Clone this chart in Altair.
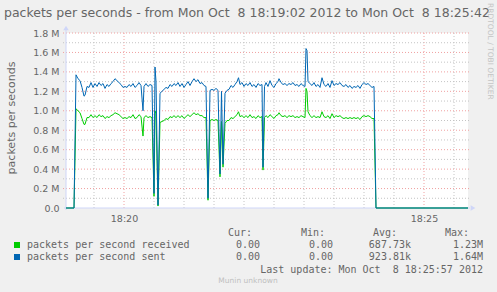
import altair as alt
import pandas as pd

# ---------------- data (seconds after 18:19:02, values in millions) -------------
secs = [0, 8, 10, 12, 14, 16, 18, 19, 21, 23, 25, 27, 29, 31, 33, 35, 37, 39, 41, 43,
        45, 47, 49, 51, 53, 55, 57, 59, 61, 63, 65, 67, 69, 71, 73, 75, 77, 78, 80, 82,
        84, 86, 88, 89, 90, 92, 94, 96, 98, 100, 102, 104, 106, 108, 110, 112, 114, 116, 118, 120,
        122, 124, 126, 128, 130, 132, 134, 136, 138, 140, 142, 144, 146, 148, 150, 152, 154, 155.5, 157, 159,
        161, 163, 165, 167, 169, 171, 172.5, 174, 176, 178, 180, 182, 184, 186, 188, 190, 192, 194, 196, 197,
        198.5, 200, 202, 204, 206, 208, 210, 212, 213, 215, 217, 219, 221, 223, 225, 227, 229, 231, 233, 235,
        237, 239, 240, 241, 242, 244, 246, 248, 250, 252, 254, 256, 258, 260, 262, 264, 266, 268, 270, 272,
        274, 276, 278, 280, 282, 284, 286, 288, 290, 292, 294, 296, 298, 300, 302, 304, 306, 308, 310, 402]

sent = [0, 0, 1.37, 1.33, 1.31, 1.24, 1.15, 1.16, 1.25, 1.24, 1.29, 1.24, 1.28, 1.25, 1.29, 1.26, 1.28, 1.23, 1.27, 1.25,
        1.28, 1.30, 1.33, 1.31, 1.29, 1.27, 1.24, 1.25, 1.24, 1.27, 1.25, 1.28, 1.24, 1.26, 1.29, 1.26, 1.00, 1.25, 1.28, 1.25,
        1.27, 1.26, 0.15, 1.45, 1.30, 0.03, 1.18, 1.20, 1.22, 1.24, 1.23, 1.27, 1.25, 1.28, 1.26, 1.29, 1.25, 1.28, 1.24, 1.27,
        1.30, 1.26, 1.30, 1.33, 1.30, 1.32, 1.28, 1.29, 1.26, 1.25, 0.10, 1.21, 1.22, 1.21, 1.23, 1.21, 0.35, 1.20, 0.45, 1.18,
        1.21, 1.22, 1.26, 1.24, 1.27, 1.30, 1.34, 1.27, 1.29, 1.25, 1.28, 1.26, 1.29, 1.25, 1.27, 1.24, 1.28, 1.26, 1.27, 0.42,
        1.25, 1.29, 1.25, 1.31, 1.26, 1.24, 1.28, 1.30, 1.33, 1.29, 1.27, 1.28, 1.26, 1.28, 1.27, 1.29, 1.26, 1.27, 1.25, 1.28,
        1.26, 1.25, 1.64, 1.62, 1.30, 1.28, 1.26, 1.29, 1.25, 1.27, 1.24, 1.34, 1.27, 1.25, 1.28, 1.24, 1.31, 1.26, 1.28, 1.27,
        1.29, 1.26, 1.25, 1.27, 1.24, 1.26, 1.23, 1.25, 1.24, 1.26, 1.23, 1.27, 1.29, 1.27, 1.28, 1.26, 1.24, 1.25, 0, 0]

received = [0, 0, 1.02, 1.00, 0.98, 0.92, 0.86, 0.86, 0.93, 0.93, 0.96, 0.93, 0.95, 0.93, 0.96, 0.94, 0.95, 0.92, 0.94, 0.93,
            0.95, 0.96, 0.98, 0.97, 0.96, 0.94, 0.92, 0.93, 0.92, 0.94, 0.93, 0.96, 0.92, 0.93, 0.96, 0.94, 0.74, 0.93, 0.95, 0.93,
            0.94, 0.93, 0.12, 1.00, 0.97, 0.02, 0.88, 0.89, 0.90, 0.92, 0.91, 0.94, 0.93, 0.95, 0.93, 0.95, 0.93, 0.95, 0.92, 0.94,
            0.96, 0.94, 0.96, 0.98, 0.96, 0.97, 0.95, 0.95, 0.93, 0.93, 0.08, 0.90, 0.91, 0.90, 0.91, 0.90, 0.32, 0.89, 0.42, 0.87,
            0.90, 0.90, 0.93, 0.92, 0.94, 0.96, 0.99, 0.94, 0.95, 0.93, 0.95, 0.93, 0.96, 0.93, 0.94, 0.92, 0.95, 0.93, 0.94, 0.39,
            0.93, 0.95, 0.93, 0.96, 0.94, 0.92, 0.95, 0.96, 0.98, 0.95, 0.94, 0.95, 0.93, 0.95, 0.94, 0.95, 0.93, 0.94, 0.93, 0.95,
            0.94, 0.93, 1.23, 1.20, 0.99, 0.95, 0.93, 0.95, 0.93, 0.94, 0.93, 0.99, 0.94, 0.93, 0.95, 0.92, 0.97, 0.93, 0.95, 0.94,
            0.95, 0.93, 0.92, 0.93, 0.92, 0.93, 0.92, 0.93, 0.92, 0.93, 0.91, 0.94, 0.95, 0.94, 0.95, 0.94, 0.92, 0.92, 0, 0]

series_names = ["packets per second received", "packets per second sent"]
series_colors = ["#00cc00", "#0066b3"]
cur_vals = ["0.00", "0.00"]
min_vals = ["0.00", "0.00"]
avg_vals = ["687.73k", "923.81k"]
max_vals = ["1.23M", "1.64M"]

x_tick_secs = [58, 358]
x_tick_labels = ["18:20", "18:25"]
y_ticks = [0, 0.2, 0.4, 0.6, 0.8, 1.0, 1.2, 1.4, 1.6, 1.8]
minor_x = [28, 88, 118, 148, 178, 208, 238, 268, 298, 328, 388]
major_x = [58, 358]
minor_y = [0.1, 0.3, 0.5, 0.7, 0.9, 1.1, 1.3, 1.5, 1.7]
major_y = [0.2, 0.4, 0.6, 0.8, 1.0, 1.2, 1.4, 1.6, 1.8]

title_text = "packets per seconds - from Mon Oct \u00a08 18:19:02 2012 to Mon Oct \u00a08 18:25:42"
last_update = "Last update: Mon Oct \u00a08 18:25:57 2012"

# ---------------- layout ---------------
OX, OY = 66, 33          # plot origin in page pixels
W, H = 402, 175
SANS = "DejaVu Sans"
MONO = "DejaVu Sans Mono"
FONT_C = "#666666"
AXIS_C = "#cfd6f8"

df = pd.DataFrame({
    "t": secs * 2,
    "v": received + sent,
    "s": [series_names[0]] * len(secs) + [series_names[1]] * len(secs),
})

xs = alt.Scale(domain=[0, W], nice=False)
ys = alt.Scale(domain=[0, 1.8], nice=False)

lbl_expr = " : ".join(
    f"datum.value == {s} ? '{l}'" for s, l in zip(x_tick_secs, x_tick_labels)
) + " : ''"

X_AXIS = alt.Axis(
    values=x_tick_secs, labelExpr=lbl_expr, title=None, domain=False, grid=False,
    ticks=False, labelPadding=5, labelFont=SANS, labelFontSize=9.5, labelColor=FONT_C,
    labelOverlap=False)
Y_AXIS = alt.Axis(
    values=y_ticks, labelExpr="datum.value == 0 ? '0.0' : format(datum.value, '.1f') + ' M'",
    title=None, domain=False, grid=False, ticks=False, labelPadding=7,
    labelFont=SANS, labelFontSize=9.5, labelColor=FONT_C, labelOverlap=False,
    labelFlush=False)

def X(field="t"):
    return alt.X(f"{field}:Q", scale=xs, axis=X_AXIS)

def Y(field="v"):
    return alt.Y(f"{field}:Q", scale=ys, axis=Y_AXIS)

def vgrid(vals, color):
    return alt.Chart(pd.DataFrame({"t": vals})).mark_rule(
        color=color, strokeWidth=1, strokeDash=[1, 2]).encode(
        x=X(), y=alt.value(0), y2=alt.value(H + 2))

def hgrid(vals, color):
    return alt.Chart(pd.DataFrame({"v": vals})).mark_rule(
        color=color, strokeWidth=1, strokeDash=[1, 2]).encode(
        y=Y(), x=alt.value(-3), x2=alt.value(W + 2))

GRID_MINOR = "#c4c4c4"
GRID_MAJOR = "#f0a0a0"

lines = alt.Chart(df).mark_line(strokeWidth=1, interpolate="linear").encode(
    x=X(),
    y=Y(),
    color=alt.Color("s:N", scale=alt.Scale(domain=series_names, range=series_colors), legend=None),
    order=alt.Order("t:Q"),
)

one = pd.DataFrame({"a": [0]})

def txt(text, x, y, align="left", size=10, font=MONO, color=FONT_C, angle=0):
    kw = dict(align=align, baseline="middle", fontSize=size, font=font, color=color, text=text)
    if angle:
        kw["angle"] = angle
    return alt.Chart(one).mark_text(**kw).encode(x=alt.value(x - OX), y=alt.value(y - OY))

def sq(color, y):
    return alt.Chart(one).mark_rect(color=color).encode(
        x=alt.value(14 - OX), x2=alt.value(20 - OX), y=alt.value(y - 3 - OY), y2=alt.value(y + 3 - OY))

axis_lines = [
    alt.Chart(one).mark_rule(color=AXIS_C, strokeWidth=1).encode(
        x=alt.value(-2), x2=alt.value(W + 2), y=alt.value(H)),
    alt.Chart(one).mark_rule(color=AXIS_C, strokeWidth=1).encode(
        x=alt.value(0), y=alt.value(-4), y2=alt.value(H + 2)),
    alt.Chart(one).mark_point(shape="triangle-right", filled=True, color=AXIS_C, size=30, opacity=1).encode(
        x=alt.value(W + 5), y=alt.value(H)),
    alt.Chart(one).mark_point(shape="triangle-up", filled=True, color=AXIS_C, size=30, opacity=1).encode(
        x=alt.value(0), y=alt.value(-5)),
]

texts = [
    txt(title_text, 4, 13, size=12.5, font=SANS),
    txt("packets per seconds", 12, 118, align="center", size=11, font=SANS, angle=270),
    txt("RRDTOOL / TOBI OETIKER", 490, 3, size=7.5, font=SANS, color="#c4c4c4", angle=90),
    txt("Cur:", 252, 233, align="right"),
    txt("Min:", 325, 233, align="right"),
    txt("Avg:", 397, 233, align="right"),
    txt("Max:", 469, 233, align="right"),
    txt(last_update, 483, 270, align="right"),
    txt("Munin unknown", 248, 281, align="center", size=7.5, font=SANS, color="#c0c0c0"),
]
for i, yy in enumerate([245, 257]):
    texts += [
        sq(series_colors[i], yy),
        txt(series_names[i], 27, yy),
        txt(cur_vals[i], 260, yy, align="right"),
        txt(min_vals[i], 333, yy, align="right"),
        txt(avg_vals[i], 411, yy, align="right"),
        txt(max_vals[i], 483, yy, align="right"),
    ]

chart = alt.layer(
    vgrid(minor_x, GRID_MINOR), vgrid(major_x, GRID_MAJOR),
    hgrid(minor_y, GRID_MINOR), hgrid(major_y, GRID_MAJOR),
    *axis_lines,
    lines,
    *texts,
).properties(
    width=W, height=H,
    padding={"left": OX, "top": OY, "right": 497 - OX - W, "bottom": 292 - OY - H},
    autosize=alt.AutoSizeParams(type="none"),
    background="#f0f0f0",
).configure_view(fill="white", stroke=None)

chart.save("out.html", embed_options={"renderer": "svg", "actions": False})
